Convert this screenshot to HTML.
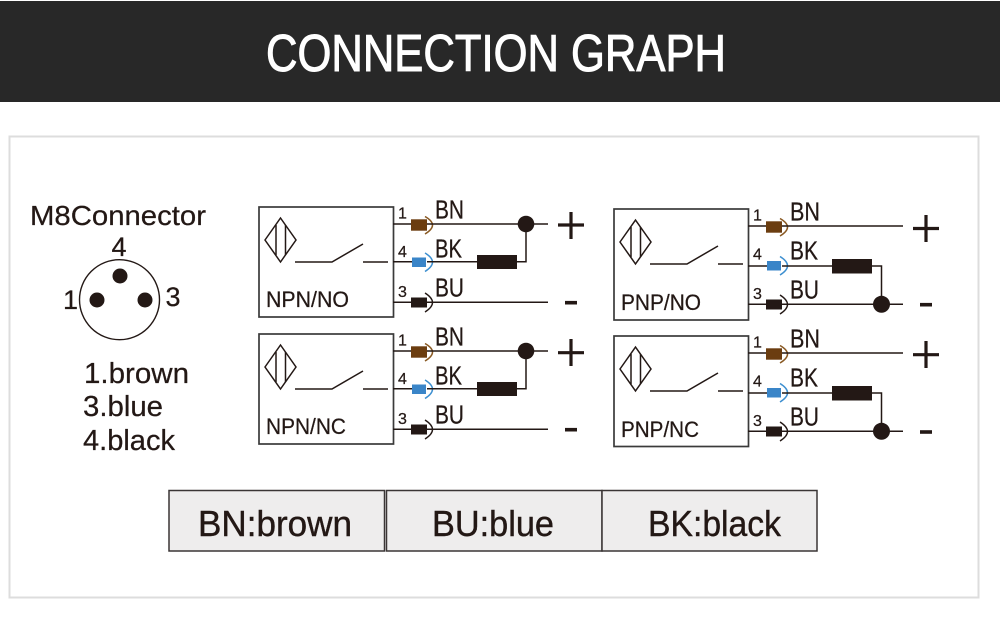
<!DOCTYPE html>
<html>
<head>
<meta charset="utf-8">
<style>
html,body{margin:0;padding:0;background:#fff;width:1000px;height:638px;overflow:hidden}
svg{display:block}
text{font-family:"Liberation Sans",sans-serif;fill:#231815;stroke:#231815;stroke-width:.25}
.w{stroke:#231815;stroke-width:1.5;fill:none}
.bx{stroke:#3a3a3a;stroke-width:1.7;fill:#fff}
.lb{font-size:25.5px}
.nm{font-size:16px}
.ty{font-size:22px}
.pm{stroke:#231815;stroke-width:3.2;fill:none}
</style>
</head>
<body>
<svg width="1000" height="638" viewBox="0 0 1000 638" xmlns="http://www.w3.org/2000/svg">
<defs>
<g id="sym">
  <path class="w" d="M6 33 L21.5 11 L37 33 L21.5 55 Z"/>
  <path class="w" d="M17 18 V48 M26.5 18 V48"/>
  <path class="w" d="M36 55 H73 L104 37 M104 55 H129"/>
</g>
<g id="top">
  <path class="w" d="M134 17 H152"/>
  <path class="w" d="M134 95.3 H152"/>
  <rect x="152" y="12.3" width="16" height="11.4" fill="#6b3d10"/>
  <path d="M166 9.5 Q181 18 166 27" fill="none" stroke="#8a5a24" stroke-width="1.5"/>
  <rect x="152" y="90.5" width="16" height="10" fill="#231815"/>
  <path d="M166 86 Q181 95.5 166 105" fill="none" stroke="#231815" stroke-width="1.4"/>
</g>
<g id="mid4a">
  <path class="w" d="M134 54.7 H153"/>
  <rect x="153" y="50.5" width="14" height="9.5" fill="#3a85c8"/>
  <path d="M166 46 Q181 55 166 64.5" fill="none" stroke="#3d8fd0" stroke-width="1.5"/>
</g>
<g id="mid4b">
  <path class="w" d="M134 57 H153"/>
  <rect x="153" y="52" width="14" height="9.5" fill="#3a85c8"/>
  <path d="M166 47.5 Q181 56.8 166 66" fill="none" stroke="#3d8fd0" stroke-width="1.5"/>
</g>
</defs>

<rect x="0" y="1" width="1000" height="101" fill="#282828"/>
<text x="266" y="71" font-size="52" textLength="460" lengthAdjust="spacingAndGlyphs" style="fill:#fff;stroke:#fff;stroke-width:1">CONNECTION GRAPH</text>

<rect x="9.5" y="136.5" width="969" height="461" fill="#fff" stroke="#dddddd" stroke-width="2"/>

<!-- M8 connector -->
<text x="30" y="225" font-size="28" textLength="176" lengthAdjust="spacingAndGlyphs">M8Connector</text>
<text x="111.5" y="256" font-size="27">4</text>
<text x="63" y="309" font-size="27">1</text>
<text x="165.5" y="306" font-size="27">3</text>
<circle cx="119.5" cy="299.7" r="40" fill="none" stroke="#231815" stroke-width="1.4"/>
<circle cx="120" cy="276" r="7.5" fill="#231815"/>
<circle cx="97" cy="300" r="7.5" fill="#231815"/>
<circle cx="145" cy="300" r="7.5" fill="#231815"/>
<text x="84" y="383" font-size="29" textLength="105" lengthAdjust="spacingAndGlyphs">1.brown</text>
<text x="83" y="416" font-size="29" textLength="80" lengthAdjust="spacingAndGlyphs">3.blue</text>
<text x="83" y="450" font-size="29" textLength="92" lengthAdjust="spacingAndGlyphs">4.black</text>

<!-- NPN/NO -->
<g transform="translate(259,207)">
  <rect class="bx" x="0" y="0" width="134.5" height="110"/>
  <use href="#sym"/><use href="#top"/><use href="#mid4a"/>
  <text class="ty" x="7" y="100" textLength="83" lengthAdjust="spacingAndGlyphs">NPN/NO</text>
  <text class="nm" x="139" y="11.3">1</text><text class="nm" x="139" y="50">4</text><text class="nm" x="139" y="90">3</text>
  <text class="lb" x="176" y="11.3" textLength="29" lengthAdjust="spacingAndGlyphs">BN</text>
  <text class="lb" x="176" y="50.5" textLength="27" lengthAdjust="spacingAndGlyphs">BK</text>
  <text class="lb" x="176" y="89.7" textLength="29" lengthAdjust="spacingAndGlyphs">BU</text>
  <path class="w" d="M168 17 H289 M168 54.7 H218 M258 54.7 H267 V17 M168 95.3 H289"/>
  <rect x="218" y="48" width="40" height="14" fill="#231815"/>
  <circle cx="267" cy="17" r="8.3" fill="#231815"/>
  <path class="pm" d="M299 18 H325 M312 5 V32"/>
  <path class="pm" style="stroke-width:3.6" d="M306 95.7 H318"/>
</g>

<!-- NPN/NC -->
<g transform="translate(259,334)">
  <rect class="bx" x="0" y="0" width="134.5" height="110"/>
  <use href="#sym"/><use href="#top"/><use href="#mid4a"/>
  <text class="ty" x="7" y="100" textLength="80" lengthAdjust="spacingAndGlyphs">NPN/NC</text>
  <text class="nm" x="139" y="11.3">1</text><text class="nm" x="139" y="50">4</text><text class="nm" x="139" y="90">3</text>
  <text class="lb" x="176" y="11.3" textLength="29" lengthAdjust="spacingAndGlyphs">BN</text>
  <text class="lb" x="176" y="50.5" textLength="27" lengthAdjust="spacingAndGlyphs">BK</text>
  <text class="lb" x="176" y="89.7" textLength="29" lengthAdjust="spacingAndGlyphs">BU</text>
  <path class="w" d="M168 17 H289 M168 54.7 H218 M258 54.7 H267 V17 M168 95.3 H289"/>
  <rect x="218" y="48" width="40" height="14" fill="#231815"/>
  <circle cx="267" cy="17" r="8.3" fill="#231815"/>
  <path class="pm" d="M299 18.7 H325 M312 5 V32"/>
  <path class="pm" style="stroke-width:3.6" d="M306 95.7 H318"/>
</g>

<!-- PNP/NO -->
<g transform="translate(614,209)">
  <rect class="bx" x="0" y="0" width="134.5" height="111"/>
  <use href="#sym"/><use href="#top"/><use href="#mid4b"/>
  <text class="ty" x="7" y="101" textLength="80" lengthAdjust="spacingAndGlyphs">PNP/NO</text>
  <text class="nm" x="139" y="11.3">1</text><text class="nm" x="139" y="50.3">4</text><text class="nm" x="139" y="90">3</text>
  <text class="lb" x="176" y="11.3" textLength="30" lengthAdjust="spacingAndGlyphs">BN</text>
  <text class="lb" x="176" y="50.5" textLength="28" lengthAdjust="spacingAndGlyphs">BK</text>
  <text class="lb" x="176" y="89.7" textLength="29" lengthAdjust="spacingAndGlyphs">BU</text>
  <path class="w" d="M168 17 H289 M168 57 H218 M258 57 H267.5 V95.3 M168 95.3 H289"/>
  <rect x="218" y="50" width="40" height="14.5" fill="#231815"/>
  <circle cx="267.5" cy="95.3" r="8.5" fill="#231815"/>
  <path class="pm" d="M299 19.5 H325 M312 6 V33"/>
  <path class="pm" style="stroke-width:3.6" d="M306 95.7 H318"/>
</g>

<!-- PNP/NC -->
<g transform="translate(614,336)">
  <rect class="bx" x="0" y="0" width="134.5" height="110.5"/>
  <use href="#sym"/><use href="#top"/><use href="#mid4b"/>
  <text class="ty" x="7" y="101" textLength="78" lengthAdjust="spacingAndGlyphs">PNP/NC</text>
  <text class="nm" x="139" y="11.3">1</text><text class="nm" x="139" y="50.3">4</text><text class="nm" x="139" y="90">3</text>
  <text class="lb" x="176" y="11.3" textLength="30" lengthAdjust="spacingAndGlyphs">BN</text>
  <text class="lb" x="176" y="50.5" textLength="28" lengthAdjust="spacingAndGlyphs">BK</text>
  <text class="lb" x="176" y="89.7" textLength="29" lengthAdjust="spacingAndGlyphs">BU</text>
  <path class="w" d="M168 17 H289 M168 57 H218 M258 57 H267.5 V95.3 M168 95.3 H289"/>
  <rect x="218" y="50" width="40" height="14.5" fill="#231815"/>
  <circle cx="267.5" cy="95.3" r="8.5" fill="#231815"/>
  <path class="pm" d="M299 18.7 H325 M312 5 V32"/>
  <path class="pm" style="stroke-width:3.6" d="M306 96 H318"/>
</g>

<!-- Legend table -->
<g fill="#eeeded" stroke="#3a3535" stroke-width="1.5">
  <rect x="169" y="490.5" width="215.5" height="60.5"/>
  <rect x="386.5" y="490.5" width="215.5" height="60.5"/>
  <rect x="602" y="490.5" width="215" height="60.5"/>
</g>
<text x="198" y="536" font-size="36" textLength="154" lengthAdjust="spacingAndGlyphs" style="stroke-width:.4">BN:brown</text>
<text x="432" y="536" font-size="36" textLength="122" lengthAdjust="spacingAndGlyphs" style="stroke-width:.4">BU:blue</text>
<text x="648" y="536" font-size="36" textLength="133" lengthAdjust="spacingAndGlyphs" style="stroke-width:.4">BK:black</text>
</svg>
</body>
</html>
